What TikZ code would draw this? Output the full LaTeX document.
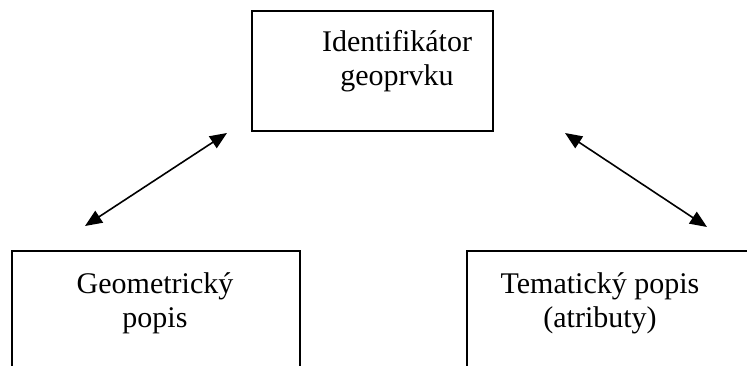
\documentclass[tikz,border=0pt]{standalone}
\usepackage{fontspec}
\setmainfont{Liberation Serif}
\usetikzlibrary{arrows.meta}

\tikzset{
  box/.style={draw=black, line width=1.7pt, fill=none, inner sep=0pt},
  boxtext/.style={anchor=base, inner sep=0pt, font=\fontsize{30}{35}\selectfont},
  link/.style={line width=1.6pt, {Triangle[length=17pt,width=14pt]}-{Triangle[length=17pt,width=14pt]}}
}

\begin{document}
\begin{tikzpicture}[x=1pt, y=-1pt]
  \useasboundingbox (0,0) rectangle (747,366);
  \clip (0,0) rectangle (747,366);

  % the three boxes
  \node[box, minimum width=241pt, minimum height=120pt] (ident) at (372.5,71) {};
  \node[box, minimum width=288pt, minimum height=140pt] (geom) at (156,321) {};
  \node[box, minimum width=293pt, minimum height=140pt] (tema) at (613.5,321) {};

  % box labels
  \node[boxtext] (identA) at (397,52) {Identifikátor};
  \node[boxtext] (identB) at (397,86) {geoprvku};
  \node[boxtext] (geomA)  at (155,293) {Geometrický};
  \node[boxtext] (geomB)  at (155,327) {popis};
  \node[boxtext] (temaA)  at (600,293) {Tematický popis};
  \node[boxtext] (temaB)  at (600,327) {(atributy)};

  % connector end points
  \coordinate (lTop) at (227,133);
  \coordinate (lBot) at (85,226);
  \coordinate (rTop) at (565,133);
  \coordinate (rBot) at (707,227);

  \draw[link] (lBot) -- (lTop);
  \draw[link] (rTop) -- (rBot);
\end{tikzpicture}
\end{document}
